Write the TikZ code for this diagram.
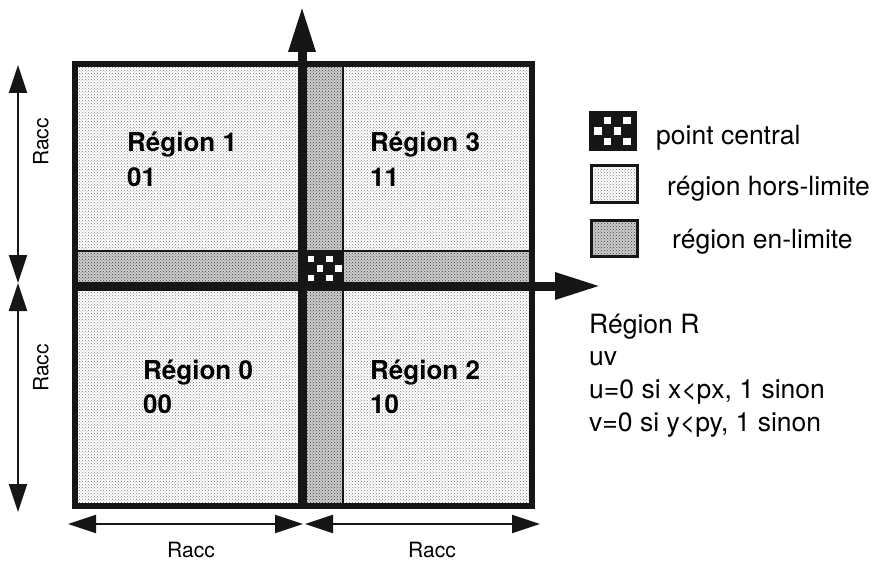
\documentclass[tikz,border=0pt]{standalone}
\usepackage{fontspec}
\setmainfont{TeX Gyre Heros}
\usetikzlibrary{arrows.meta,patterns}
\definecolor{ink}{HTML}{161616}
\tikzset{
  outside/.style={fill=white, postaction={pattern=crosshatch dots, pattern color=black!50}},
  inside/.style={fill=gray!40, postaction={pattern=crosshatch dots, pattern color=black!75}},
  axis/.style={ink, line width=9pt, -{Triangle[length=46pt,width=25pt]}},
  dim/.style={ink, line width=2pt, {Triangle[length=28pt,width=18pt]}-{Triangle[length=28pt,width=18pt]}},
  reglabel/.style={anchor=base west, inner sep=0, font=\bfseries\fontsize{26}{30}\selectfont},
  txt/.style={anchor=base west, inner sep=0, font=\fontsize{26.5}{30}\selectfont},
  dimlabel/.style={inner sep=0, font=\fontsize{21}{24}\selectfont},
  keybox/.style={ink, line width=3pt}
}
\begin{document}
\begin{tikzpicture}[x=1pt,y=-1pt]
\useasboundingbox (0,0) rectangle (880,564);

% the four outer regions
\fill[outside] (75,64) rectangle (302,251);
\fill[outside] (343,64) rectangle (532,251);
\fill[outside] (75,286) rectangle (302,506);
\fill[outside] (343,286) rectangle (532,506);
% limit bands
\fill[inside] (302,64) rectangle (343,506);
\fill[inside] (75,251) rectangle (532,286);
% central point
\fill[ink] (302,251) rectangle (343,286);
\foreach \i in {0,...,3}{
  \foreach \j in {0,...,2}{
    \pgfmathtruncatemacro{\parity}{mod(\i+\j,2)}
    \ifnum\parity=0
      \fill[white] (306+\i*9.3+1.5,254+\j*9.5+1.5) rectangle ++(6.5,6.5);
    \fi
  }
}
% thin band borders
\draw[ink, line width=2.5pt] (75,251) -- (532,251);
\draw[ink, line width=2.5pt] (343,64) -- (343,506);
% outer frame
\draw[ink, line width=6pt] (75,64) rectangle (532,506);

% axes
\coordinate (yb) at (302,506);
\coordinate (yt) at (302,6);
\coordinate (xl) at (75,286);
\coordinate (xr) at (601,286);
\draw[axis] (yb) -- (yt);
\draw[axis] (xl) -- (xr);

% dimension arrows
\coordinate (l1) at (18,65);
\coordinate (l2) at (18,283);
\coordinate (l3) at (18,512);
\coordinate (b1) at (68,524);
\coordinate (b2) at (303,524);
\coordinate (b3) at (305,524);
\coordinate (b4) at (540,524);
\draw[dim] (l1) -- (l2);
\draw[dim] (l2) -- (l3);
\draw[dim] (b1) -- (b2);
\draw[dim] (b3) -- (b4);
\node[dimlabel, rotate=90] (rl1) at (41,142) {Racc};
\node[dimlabel, rotate=90] (rl2) at (41,368) {Racc};
\node[dimlabel] (rb1) at (191,550) {Racc};
\node[dimlabel] (rb2) at (432,550) {Racc};

% region labels
\node[reglabel] (r1) at (127,152) {Région 1};
\node[reglabel] (c1) at (127,186) {01};
\node[reglabel] (r3) at (370,152) {Région 3};
\node[reglabel] (c3) at (370,186) {11};
\node[reglabel] (r0) at (143,379) {Région 0};
\node[reglabel] (c0) at (143,413) {00};
\node[reglabel] (r2) at (370,379) {Région 2};
\node[reglabel] (c2) at (370,413) {10};

% legend
\fill[ink] (590,113) rectangle (635,150);
\foreach \i in {0,...,3}{
  \foreach \j in {0,...,2}{
    \pgfmathtruncatemacro{\parity}{mod(\i+\j,2)}
    \ifnum\parity=1
      \fill[white] (593+\i*9.8+1,116+\j*10.3+1) rectangle ++(7.5,7.5);
    \fi
  }
}
\draw[keybox] (590,113) rectangle (635,150);
\fill[outside] (591,166) rectangle (637,202);
\draw[keybox] (591,166) rectangle (637,202);
\fill[inside] (591,220) rectangle (637,256);
\draw[keybox] (591,220) rectangle (637,256);
\node[txt] (k1) at (656,145) {point central};
\node[txt] (k2) at (667,196) {région hors-limite};
\node[txt] (k3) at (672,248) {région en-limite};

% region coding
\node[txt] (t1) at (589,333) {Région R};
\node[txt] (t2) at (589,365) {uv};
\node[txt] (t3) at (589,398) {u=0 si x<px, 1 sinon};
\node[txt] (t4) at (589,431) {v=0 si y<py, 1 sinon};
\end{tikzpicture}
\end{document}
